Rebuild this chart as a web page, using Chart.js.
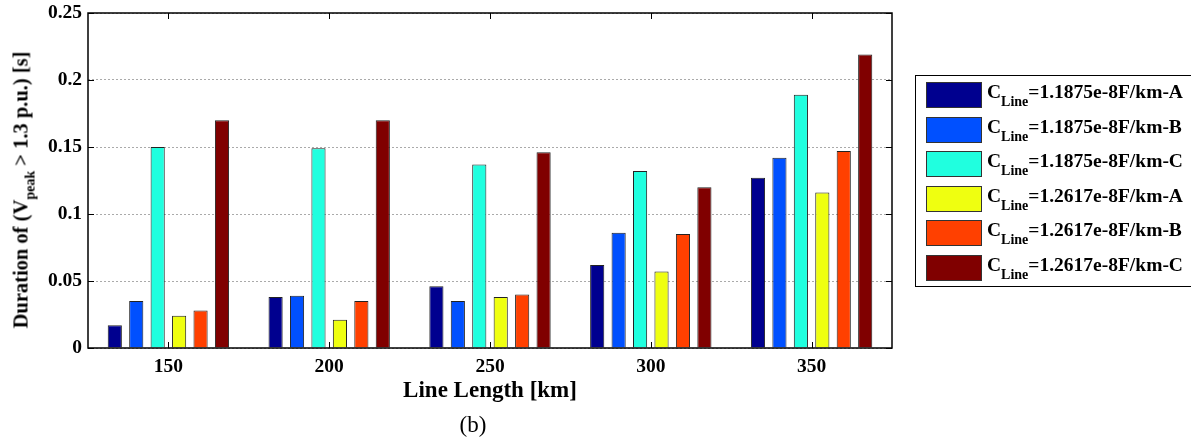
<!DOCTYPE html>
<html>
<head>
<meta charset="utf-8">
<script src="https://cdn.jsdelivr.net/npm/chart.js@4.4.1/dist/chart.umd.min.js"></script>
<style>
  html, body { margin: 0; padding: 0; background: #fff; overflow: hidden; }
  #wrap { position: relative; width: 1191px; height: 441px; font-family: "Liberation Serif", "Times New Roman", serif; }
  #wrap canvas { position: absolute; left: 0; top: 0; }
  #ytitle { position: absolute; left: 21px; top: 190px; transform: translate(-50%, -50%) rotate(-90deg);
    white-space: nowrap; font-weight: bold; font-size: 20.5px; }
  #ytitle sub { font-size: 14px; vertical-align: -7px; line-height: 0; }
  #caption { position: absolute; left: 473px; top: 425px; transform: translate(-50%, -50%); font-size: 23px; }
  #legend { position: absolute; left: 915px; top: 75px; width: 300px; height: 212px; border: 1px solid #000; box-sizing: border-box; }
  .row { position: absolute; left: 0; height: 26px; }
  .sw { position: absolute; left: 10px; top: 0; width: 56px; height: 26px; border: 1px solid #333; box-sizing: border-box; }
  .lt { position: absolute; left: 71px; top: -3px; line-height: 26px; font-size: 19.5px; font-weight: bold; white-space: nowrap; }
  .lt sub { font-size: 14px; vertical-align: -8px; line-height: 0; }
</style>
</head>
<body>
<div id="wrap">
  <canvas id="chart1" width="1191" height="441"></canvas>
  <div id="ytitle">Duration of (V<sub>peak</sub> &gt; 1.3 p.u.) [s]</div>
  <div id="legend"></div>
  <div id="caption">(b)</div>
</div>
<script>
let categories = ['150', '200', '250', '300', '350'];
let seriesLabels = ['C_Line=1.1875e-8F/km-A', 'C_Line=1.1875e-8F/km-B', 'C_Line=1.1875e-8F/km-C',
                    'C_Line=1.2617e-8F/km-A', 'C_Line=1.2617e-8F/km-B', 'C_Line=1.2617e-8F/km-C'];
let colors = ['#00008F', '#0050FF', '#20FFDF', '#EFFF10', '#FF4000', '#800000'];
let dataA1 = [0.017, 0.038, 0.046, 0.062, 0.127];
let dataB1 = [0.035, 0.039, 0.035, 0.086, 0.142];
let dataC1 = [0.150, 0.149, 0.137, 0.132, 0.189];
let dataA2 = [0.024, 0.021, 0.038, 0.057, 0.116];
let dataB2 = [0.028, 0.035, 0.040, 0.085, 0.147];
let dataC2 = [0.170, 0.170, 0.146, 0.120, 0.219];
let yTickLabels = ['0', '0.05', '0.1', '0.15', '0.2', '0.25'];

let allData = [dataA1, dataB1, dataC1, dataA2, dataB2, dataC2];
let tickFont = { family: '"Liberation Serif", "Times New Roman", serif', size: 19.5, weight: 'bold' };

// inward tick marks + black box round the plot, matlab style
let boxTicks = {
  id: 'boxTicks',
  afterDraw(chart) {
    let ctx = chart.ctx;
    let a = chart.chartArea;
    let xs = chart.scales.x, ys = chart.scales.y;
    ctx.save();
    ctx.strokeStyle = '#000';
    ctx.lineWidth = 1;
    ctx.beginPath();
    ys.ticks.forEach(t => {
      let y = Math.round(ys.getPixelForValue(t.value)) + 0.5;
      ctx.moveTo(a.left, y); ctx.lineTo(a.left + 6, y);
      ctx.moveTo(a.right, y); ctx.lineTo(a.right - 6, y);
    });
    categories.forEach((c, i) => {
      let x = Math.round(xs.getPixelForValue(i)) + 0.5;
      ctx.moveTo(x, a.top); ctx.lineTo(x, a.top + 6);
      ctx.moveTo(x, a.bottom); ctx.lineTo(x, a.bottom - 6);
    });
    ctx.stroke();
    ctx.lineWidth = 1.5;
    ctx.strokeRect(a.left, a.top, a.right - a.left, a.bottom - a.top);
    ctx.restore();
  }
};

let ctx1 = document.getElementById('chart1').getContext('2d');
let chart1 = new Chart(ctx1, {
  type: 'bar',
  data: {
    labels: categories,
    datasets: allData.map((d, i) => ({
      label: seriesLabels[i],
      data: d,
      backgroundColor: colors[i],
      borderColor: '#222',
      borderWidth: 1,
      categoryPercentage: 0.8,
      barPercentage: 0.66
    }))
  },
  options: {
    responsive: false,
    animation: false,
    layout: { padding: { top: 13, right: 299, left: 0, bottom: 0 } },
    plugins: { legend: { display: false }, tooltip: { enabled: false } },
    scales: {
      x: {
        grid: { display: false },
        border: { display: false },
        ticks: { color: '#000', font: tickFont, padding: -1 },
        title: {
          display: true, text: 'Line Length [km]', color: '#000',
          font: { family: tickFont.family, size: 23, weight: 'bold' },
          padding: { top: 0, bottom: 36 }
        },
        afterFit(scale) { scale.height = 93; scale.paddingLeft = 0; scale.paddingRight = 0; }
      },
      y: {
        min: 0, max: 0.25,
        ticks: { stepSize: 0.05, color: '#000', font: tickFont, padding: 6,
                 callback: (v, i) => yTickLabels[i] },
        grid: { color: '#aaa', drawTicks: false },
        border: { display: false, dash: [2, 2] },
        afterFit(scale) { scale.width = 88; scale.paddingTop = 0; scale.paddingBottom = 0; }
      }
    }
  },
  plugins: [boxTicks]
});

// legend with subscripts, built from the datasets
let legendEl = document.getElementById('legend');
chart1.data.datasets.forEach((ds, i) => {
  let row = document.createElement('div');
  row.className = 'row';
  row.style.top = (6 + i * 34.6) + 'px';
  let sw = document.createElement('div');
  sw.className = 'sw';
  sw.style.background = ds.backgroundColor;
  let lt = document.createElement('div');
  lt.className = 'lt';
  lt.innerHTML = ds.label.replace('C_Line', 'C<sub>Line</sub>');
  row.appendChild(sw);
  row.appendChild(lt);
  legendEl.appendChild(row);
});
</script>
</body>
</html>
